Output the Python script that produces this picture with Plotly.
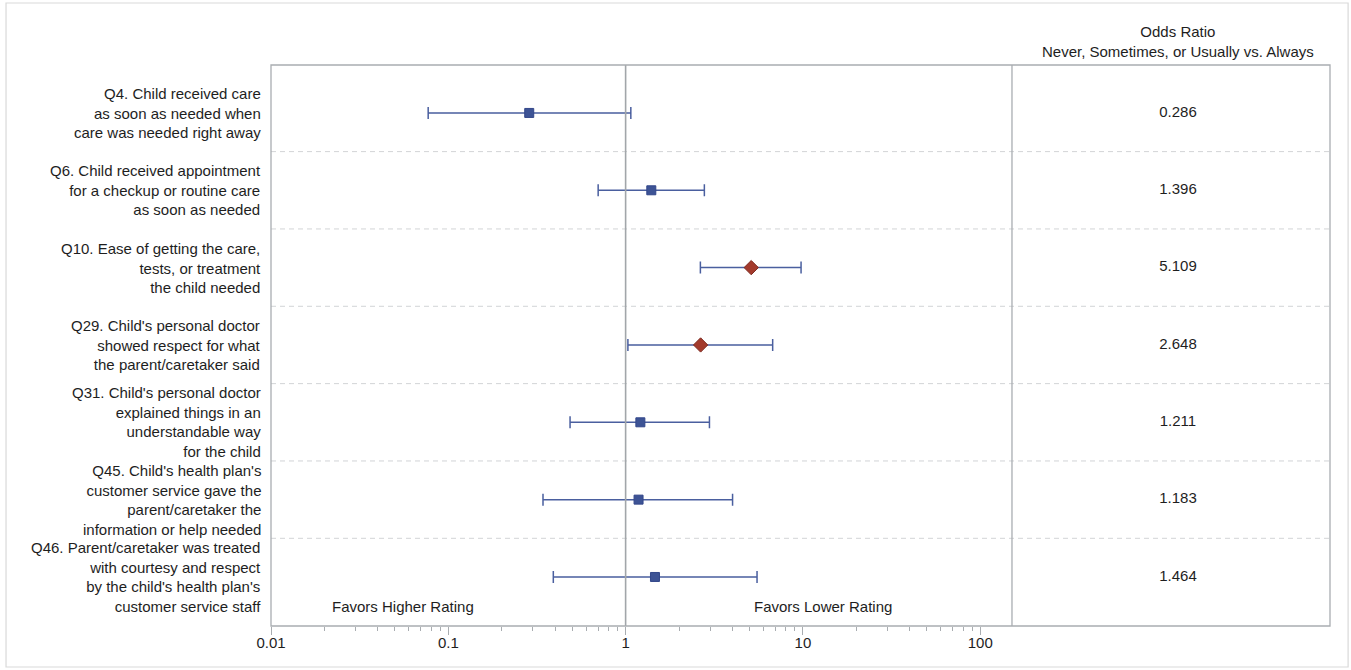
import plotly.graph_objects as go

# ---- data ----
labels = [
    "Q4. Child received care<br>as soon as needed when<br>care was needed right away",
    "Q6. Child received appointment<br>for a checkup or routine care<br>as soon as needed",
    "Q10. Ease of getting the care,<br>tests, or treatment<br>the child needed",
    "Q29. Child's personal doctor<br>showed respect for what<br>the parent/caretaker said",
    "Q31. Child's personal doctor<br>explained things in an<br>understandable way<br>for the child",
    "Q45. Child's health plan's<br>customer service gave the<br>parent/caretaker the<br>information or help needed",
    "Q46. Parent/caretaker was treated<br>with courtesy and respect<br>by the child's health plan's<br>customer service staff",
]
odds_ratio = [0.286, 1.396, 5.109, 2.648, 1.211, 1.183, 1.464]
lower_ci = [0.077, 0.70, 2.64, 1.03, 0.486, 0.342, 0.391]
upper_ci = [1.07, 2.78, 9.76, 6.75, 2.97, 4.01, 5.51]
tick_vals = [0.01, 0.1, 1, 10, 100]
tick_text = ["0.01", "0.1", "1", "10", "100"]
header_lines = ["Odds Ratio", "Never, Sometimes, or Usually vs. Always"]
favor_left = "Favors Higher Rating"
favor_right = "Favors Lower Rating"

FONT = "Liberation Sans, Arial, sans-serif"
TXT = "#1e1e1e"
BLUE = "#3d5395"
RED = "#a33a2c"
FRAME = "#a9adb1"

sig = [(lo > 1) or (hi < 1) for lo, hi in zip(lower_ci, upper_ci)]
colors = [RED if s else BLUE for s in sig]
symbols = ["diamond" if s else "square" for s in sig]
sizes = [11 if s else 9 for s in sig]
line_cols = ["#7e2a20" if s else "#33478a" for s in sig]

SPLIT = 0.6997

fig = go.Figure()

fig.add_trace(go.Scatter(
    x=odds_ratio, y=labels, mode="markers",
    marker=dict(symbol=symbols, color=colors, size=sizes, opacity=1,
                line=dict(color=line_cols, width=1)),
    error_x=dict(type="data", symmetric=False,
                 array=[u - o for u, o in zip(upper_ci, odds_ratio)],
                 arrayminus=[o - l for o, l in zip(odds_ratio, lower_ci)],
                 color="#4a5f9f", thickness=1.5, width=6),
    xaxis="x", yaxis="y", showlegend=False, hoverinfo="skip",
))

fig.add_trace(go.Scatter(
    x=[0.522] * len(odds_ratio), y=labels, mode="text",
    text=[f"{v:.3f}" for v in odds_ratio],
    textfont=dict(family=FONT, size=15, color=TXT),
    xaxis="x2", yaxis="y", showlegend=False, hoverinfo="skip",
))

shapes = []
# dashed separators
for i in range(len(labels) - 1):
    shapes.append(dict(type="line", xref="paper", yref="y",
                       x0=0, x1=1, y0=i + 0.5, y1=i + 0.5,
                       line=dict(color="#d2d4d6", width=1, dash="5px,4px"), layer="below"))
# reference line at 1
shapes.append(dict(type="line", xref="x", yref="paper", x0=1, x1=1, y0=0, y1=1,
                   line=dict(color="#a2a6aa", width=1.6)))
# frame
shapes.append(dict(type="rect", xref="paper", yref="paper", x0=0, x1=1, y0=0, y1=1,
                   line=dict(color=FRAME, width=1.3)))
# divider
shapes.append(dict(type="line", xref="paper", yref="paper", x0=SPLIT, x1=SPLIT, y0=0, y1=1,
                   line=dict(color=FRAME, width=1.3)))
# outer border
shapes.append(dict(type="rect", xref="paper", yref="paper",
                   x0=-0.2502, x1=1.0171, y0=-0.0731, y1=1.1105,
                   line=dict(color="#d9d9d9", width=1.2)))

annotations = []
for lab in labels:
    annotations.append(dict(xref="paper", yref="y", x=0, y=lab, text=lab,
                            xanchor="right", yanchor="middle", align="right",
                            xshift=-8, showarrow=False,
                            font=dict(family=FONT, size=15, color=TXT)))
annotations.append(dict(xref="x2", yref="paper", x=0.522, y=1.0, yshift=3,
                        text="<br>".join(header_lines), xanchor="center", yanchor="bottom",
                        align="center", showarrow=False,
                        font=dict(family=FONT, size=15, color=TXT)))
annotations.append(dict(xref="paper", yref="paper", x=0.125, y=0.034, text=favor_left,
                        xanchor="center", yanchor="middle", showarrow=False,
                        font=dict(family=FONT, size=15, color=TXT)))
annotations.append(dict(xref="paper", yref="paper", x=0.5217, y=0.034, text=favor_right,
                        xanchor="center", yanchor="middle", showarrow=False,
                        font=dict(family=FONT, size=15, color=TXT)))

minor_vals = [m * 10 ** e for e in range(-2, 3) for m in range(2, 10)]

fig.update_layout(
    width=1351, height=670,
    margin=dict(l=271, r=21, t=65, b=44),
    paper_bgcolor="white", plot_bgcolor="white",
    font=dict(family=FONT, size=15, color=TXT),
    xaxis=dict(type="log", domain=[0, SPLIT], range=[-2, 2.179],
               tickvals=tick_vals, ticktext=tick_text,
               ticks="outside", ticklen=8, tickcolor=FRAME, tickwidth=1,
               ticklabelstandoff=-5,
               minor=dict(ticks="outside", ticklen=4, tickcolor=FRAME, tickvals=minor_vals,
                          showgrid=False),
               showgrid=False, zeroline=False, showline=False,
               tickfont=dict(family=FONT, size=15, color=TXT), anchor="y"),
    xaxis2=dict(domain=[SPLIT, 1], range=[0, 1], visible=False, anchor="y"),
    yaxis=dict(type="category", categoryorder="array", categoryarray=labels,
               range=[6.634, -0.62], showticklabels=False, ticks="",
               showgrid=False, zeroline=False, showline=False),
    shapes=shapes, annotations=annotations,
)

fig.write_html("out.html", config={"displayModeBar": False},
               post_script="document.body.style.margin='0';")
